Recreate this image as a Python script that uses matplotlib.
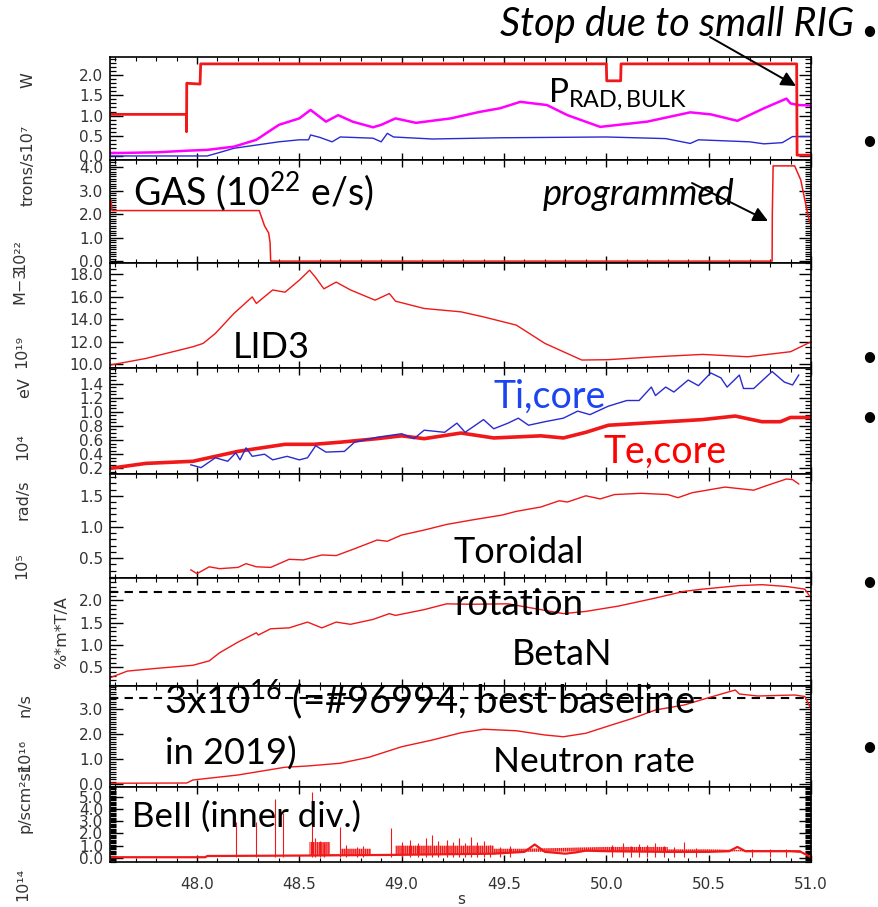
import numpy as np
import matplotlib
matplotlib.use("Agg")
import matplotlib.pyplot as plt
from matplotlib.ticker import FixedLocator, MultipleLocator, FormatStrFormatter

plt.rcParams["mathtext.fontset"] = "custom"
plt.rcParams["mathtext.rm"] = "Lato"
plt.rcParams["mathtext.it"] = "Lato:italic"
plt.rcParams["hatch.linewidth"] = 1.0

# ---------------------------------------------------------
# signals (time in s)
# ---------------------------------------------------------
# heating power (red) and radiated powers
t_pnbi = [47.575, 47.948, 47.949, 47.950, 48.015, 48.018, 50.0, 50.002, 50.07, 50.072, 50.93, 50.932, 51.0]
p_nbi = [1.03, 1.03, 0.6, 1.80, 1.78, 2.28, 2.28, 1.86, 1.86, 2.28, 2.28, 0.02, 0.02]

t_prad = [47.575, 47.8, 47.95, 48.05, 48.18, 48.29, 48.4, 48.5, 48.555, 48.63, 48.69, 48.76, 48.86, 48.9,
          48.97, 49.07, 49.24, 49.38, 49.48, 49.58, 49.71, 49.81, 49.97, 50.2, 50.41, 50.51, 50.64, 50.77,
          50.88, 50.9, 50.94, 51.0]
p_rad_bulk = [0.07, 0.09, 0.13, 0.15, 0.23, 0.4, 0.77, 0.93, 1.14, 0.85, 1.01, 0.85, 0.71, 0.77,
              0.93, 0.82, 0.93, 1.09, 1.18, 1.34, 1.26, 1.01, 0.72, 0.85, 1.08, 1.03, 0.87, 1.18,
              1.42, 1.3, 1.26, 1.25]

t_prad2 = [47.575, 48.05, 48.12, 48.18, 48.29, 48.4, 48.5, 48.545, 48.555, 48.6, 48.66, 48.7, 48.86, 48.9,
           48.93, 48.96, 49.15, 49.48, 50.0, 50.29, 50.41, 50.45, 50.7, 50.77, 50.86, 50.91, 51.0]
p_rad2 = [0.0, 0.0, 0.1, 0.19, 0.27, 0.35, 0.4, 0.4, 0.52, 0.46, 0.35, 0.47, 0.44, 0.35,
          0.56, 0.47, 0.42, 0.45, 0.47, 0.43, 0.31, 0.4, 0.35, 0.3, 0.33, 0.48, 0.48]

# gas injection
t_gas = [47.575, 47.58, 47.585, 48.304, 48.33, 48.35, 48.357, 48.36, 50.81, 50.811, 50.815, 50.92, 50.95, 50.985, 51.0]
gas = [2.15, 2.6, 2.15, 2.15, 1.5, 1.2, 0.8, 0.0, 0.0, 2.0, 4.05, 4.05, 3.45, 1.96, 1.5]

# line integrated density LID3
t_lid = [47.575, 47.75, 47.98, 48.03, 48.09, 48.18, 48.27, 48.29, 48.37, 48.43, 48.5, 48.55, 48.58, 48.62,
         48.68, 48.75, 48.87, 48.94, 48.97, 49.11, 49.29, 49.4, 49.56, 49.7, 49.79, 49.88, 50.01, 50.24,
         50.47, 50.69, 50.9, 51.0]
lid3 = [9.91, 10.5, 11.54, 11.84, 12.73, 14.5, 15.98, 15.4, 16.6, 16.4, 17.47, 18.36, 17.7, 16.7,
        17.3, 16.6, 15.69, 16.28, 15.6, 14.95, 14.65, 14.2, 13.47, 11.84, 11.1, 10.36, 10.39, 10.65,
        10.86, 10.65, 11.1, 11.98]

# core temperatures
t_te = [47.575, 47.75, 47.98, 48.2, 48.43, 48.57, 48.7, 48.88, 49.0, 49.11, 49.29, 49.45, 49.68, 49.79,
        49.9, 50.01, 50.24, 50.47, 50.63, 50.76, 50.85, 50.9, 51.0]
te_core = [0.2, 0.27, 0.3, 0.44, 0.54, 0.54, 0.57, 0.62, 0.66, 0.62, 0.7, 0.63, 0.66, 0.63,
           0.71, 0.81, 0.85, 0.89, 0.94, 0.86, 0.86, 0.92, 0.92]

t_ti = [47.97, 48.02, 48.09, 48.15, 48.19, 48.21, 48.24, 48.27, 48.33, 48.37, 48.44, 48.5, 48.54, 48.58,
        48.63, 48.72, 48.77, 48.88, 49.0, 49.06, 49.11, 49.21, 49.27, 49.31, 49.4, 49.45, 49.52, 49.57,
        49.62, 49.7, 49.79, 49.86, 49.92, 50.01, 50.1, 50.16, 50.22, 50.24, 50.29, 50.33, 50.4, 50.45,
        50.51, 50.56, 50.59, 50.65, 50.67, 50.72, 50.81, 50.87, 50.91, 50.94]
ti_core = [0.25, 0.21, 0.35, 0.3, 0.42, 0.32, 0.49, 0.37, 0.4, 0.32, 0.37, 0.32, 0.35, 0.52,
           0.43, 0.44, 0.57, 0.64, 0.69, 0.62, 0.74, 0.71, 0.84, 0.71, 0.89, 0.76, 0.84, 0.91,
           0.81, 0.86, 0.91, 1.01, 0.96, 1.08, 1.16, 1.16, 1.35, 1.23, 1.35, 1.28, 1.45, 1.37,
           1.55, 1.48, 1.35, 1.52, 1.33, 1.33, 1.57, 1.42, 1.38, 1.52]

# toroidal rotation
t_rot = [47.97, 48.0, 48.06, 48.11, 48.2, 48.24, 48.29, 48.36, 48.45, 48.52, 48.61, 48.68, 48.77, 48.88,
         48.93, 49.0, 49.11, 49.22, 49.34, 49.49, 49.56, 49.68, 49.77, 49.81, 49.9, 49.97, 50.04, 50.17,
         50.3, 50.35, 50.42, 50.58, 50.72, 50.78, 50.88, 50.91, 50.94]
rot = [0.31, 0.25, 0.36, 0.33, 0.35, 0.41, 0.36, 0.35, 0.48, 0.47, 0.55, 0.54, 0.65, 0.79,
       0.77, 0.87, 0.95, 1.04, 1.11, 1.19, 1.25, 1.32, 1.42, 1.4, 1.5, 1.45, 1.52, 1.54,
       1.52, 1.47, 1.55, 1.64, 1.59, 1.66, 1.77, 1.76, 1.69]

# normalised beta
t_beta = [47.575, 47.66, 47.8, 47.98, 48.06, 48.11, 48.2, 48.29, 48.3, 48.36, 48.45, 48.54, 48.61, 48.68,
          48.75, 48.86, 48.94, 48.97, 49.11, 49.22, 49.34, 49.52, 49.68, 49.79, 49.9, 50.06, 50.24, 50.38,
          50.47, 50.65, 50.76, 50.88, 50.97, 51.0]
beta_n = [0.26, 0.41, 0.47, 0.54, 0.64, 0.82, 1.06, 1.27, 1.22, 1.36, 1.38, 1.51, 1.38, 1.51,
          1.46, 1.57, 1.7, 1.66, 1.79, 1.92, 1.91, 1.92, 1.79, 1.7, 1.75, 1.87, 2.05, 2.2,
          2.25, 2.33, 2.35, 2.31, 2.25, 2.05]
beta_ref = 2.18

# neutron rate
t_neut = [47.575, 47.95, 47.98, 48.2, 48.43, 48.54, 48.7, 48.84, 49.0, 49.15, 49.29, 49.4, 49.56, 49.7,
          49.79, 49.9, 50.01, 50.13, 50.24, 50.38, 50.49, 50.63, 50.65, 50.74, 50.92, 50.97, 51.0]
neutrons = [0.03, 0.04, 0.16, 0.36, 0.67, 0.72, 0.83, 1.07, 1.49, 1.76, 2.05, 2.19, 2.13, 1.96,
            1.89, 2.03, 2.32, 2.63, 2.96, 3.16, 3.43, 3.76, 3.6, 3.52, 3.56, 3.5, 3.0]
neut_ref = 3.45

# BeII inner divertor: baseline, noisy band and ELM spikes
t_be = [47.575, 48.04, 48.05, 48.55, 48.95, 49.45, 49.6, 49.65, 49.7, 49.8, 49.85, 49.9, 50.0, 50.3,
        50.5, 50.6, 50.64, 50.68, 50.9, 50.95, 51.0]
be_base = [0.06, 0.06, 0.16, 0.2, 0.25, 0.35, 0.5, 1.1, 0.5, 0.35, 0.45, 0.6, 0.55, 0.5,
           0.5, 0.55, 0.9, 0.55, 0.55, 0.5, 0.06]
t_band = [48.55, 48.65, 48.65, 48.7, 48.7, 48.85, 48.85, 48.97, 48.97, 49.45, 49.45, 49.6,
          50.0, 50.3, 50.3, 50.5, 50.65, 50.95]
band_lo = [0.2, 0.2, 0.2, 0.2, 0.2, 0.22, 0.22, 0.25, 0.25, 0.35, 0.35, 0.5,
           0.55, 0.5, 0.5, 0.5, 0.55, 0.5]
band_hi = [1.3, 1.3, 0.3, 0.3, 0.75, 0.75, 0.3, 0.3, 1.0, 1.0, 0.75, 0.75,
           0.9, 0.9, 0.7, 0.7, 0.65, 0.65]
t_spike = [48.19, 48.29, 48.38, 48.42, 48.56, 48.70, 48.95, 48.575, 48.6, 48.62, 48.73, 48.78, 48.81,
           49.0, 49.04, 49.08, 49.12, 49.15, 49.18, 49.22, 49.25, 49.28, 49.31, 49.34, 49.37, 49.4,
           49.43, 49.48, 49.53, 50.03, 50.08, 50.12, 50.16, 50.2, 50.24, 50.28, 50.33, 50.38, 50.44,
           50.71, 50.8, 50.88]
spike_h = [2.98, 2.9, 4.84, 3.66, 5.38, 2.57, 2.43, 1.6, 1.4, 1.2, 1.1, 0.9, 1.0,
           1.3, 1.5, 1.2, 1.6, 1.9, 1.4, 1.5, 1.3, 1.6, 1.2, 1.7, 1.3, 1.4,
           1.1, 0.9, 0.95, 1.1, 1.2, 1.0, 1.15, 1.1, 1.25, 0.95, 0.9, 1.3, 0.85,
           0.75, 0.7, 0.75]

x_ticks = [48.0, 48.5, 49.0, 49.5, 50.0, 50.5, 51.0]

# ---------------------------------------------------------
# figure layout (pixels)
# ---------------------------------------------------------
W, H = 879, 907
fig = plt.figure(figsize=(W / 100, H / 100), dpi=100)

edges = [57, 160, 263, 368, 474, 578, 686, 787, 862]
left, right = 110, 811
RED = "#f01818"
TXT = ["Lato", "DejaVu Sans"]


def fx(x):
    return x / W


def fy(y):
    return 1 - y / H


axes = []
for i in range(8):
    top, bot = edges[i], edges[i + 1]
    ax = fig.add_axes([left / W, 1 - bot / H, (right - left) / W, (bot - top) / H])
    axes.append(ax)


def idl_axis(ax, ylim, yticks, yminor):
    ax.set_xlim(47.575, 51.0)
    ax.set_ylim(*ylim)
    ax.xaxis.set_major_locator(FixedLocator(x_ticks))
    ax.xaxis.set_minor_locator(MultipleLocator(0.1))
    ax.yaxis.set_major_locator(FixedLocator(yticks))
    ax.yaxis.set_minor_locator(MultipleLocator(yminor))
    ax.yaxis.set_major_formatter(FormatStrFormatter("%.1f"))
    ax.tick_params(which="both", direction="in", top=True, right=True, labelbottom=False,
                   labelsize=11, labelcolor="#333333", colors="black")
    ax.tick_params(axis="y", which="major", length=9, width=1.0, pad=5)
    ax.tick_params(axis="y", which="minor", length=4.5, width=0.9)
    ax.tick_params(axis="x", which="major", length=5, width=1.0)
    ax.tick_params(axis="x", which="minor", length=3, width=0.8)
    for s in ax.spines.values():
        s.set_linewidth(1.2)


# 1. powers
ax = axes[0]
ax.plot(t_prad2, p_rad2, color="#2a2ad0", lw=1.0)
ax.plot(t_prad, p_rad_bulk, color="#ff00ff", lw=1.8)
ax.plot(t_pnbi, p_nbi, color=RED, lw=2.0)
idl_axis(ax, (-0.1, 2.45), [0.0, 0.5, 1.0, 1.5, 2.0], 0.1)

# 2. gas
ax = axes[1]
ax.plot(t_gas, gas, color=RED, lw=1.1)
idl_axis(ax, (-0.08, 4.3), [0.0, 1.0, 2.0, 3.0, 4.0], 0.1)

# 3. density
ax = axes[2]
ax.plot(t_lid, lid3, color=RED, lw=1.0)
idl_axis(ax, (9.65, 19.0), [10.0, 12.0, 14.0, 16.0, 18.0], 0.5)

# 4. temperatures
ax = axes[3]
ax.plot(t_te, te_core, color=RED, lw=2.6)
ax.plot(t_ti, ti_core, color="#2a2ad0", lw=1.0)
idl_axis(ax, (0.12, 1.62), [0.2, 0.4, 0.6, 0.8, 1.0, 1.2, 1.4], 0.05)

# 5. rotation
ax = axes[4]
ax.plot(t_rot, rot, color=RED, lw=1.0)
idl_axis(ax, (0.18, 1.85), [0.5, 1.0, 1.5], 0.1)

# 6. betaN
ax = axes[5]
ax.axhline(beta_ref, color="black", lw=1.5, ls=(0, (4, 3)))
ax.plot(t_beta, beta_n, color=RED, lw=1.0)
idl_axis(ax, (0.075, 2.5), [0.5, 1.0, 1.5, 2.0], 0.1)

# 7. neutrons
ax = axes[6]
ax.axhline(neut_ref, color="black", lw=1.5, ls=(0, (4, 3)))
ax.plot(t_neut, neutrons, color=RED, lw=1.0)
idl_axis(ax, (-0.12, 3.92), [0.0, 1.0, 2.0, 3.0], 0.1)

# 8. BeII - noisy stretches drawn as a densely hatched band
ax = axes[7]
ax.fill_between(t_band, band_lo, band_hi, facecolor=(1.0, 0.35, 0.35, 0.45), edgecolor=RED,
                hatch="||||||||", lw=0)
ax.vlines(t_spike, 0.1, spike_h, color=RED, lw=0.8)
ax.plot(t_be, be_base, color=RED, lw=1.6)
idl_axis(ax, (-0.33, 5.8), [0.0, 1.0, 2.0, 3.0, 4.0, 5.0], 0.1)
ax.tick_params(labelbottom=True)
ax.tick_params(axis="x", which="major", pad=11)

# unit labels down the left side
unit_labels = [("W", 28, 80), ("trons/s10⁷", 28, 165), ("10²²", 20, 256), ("M−3", 20, 285),
               ("10¹⁹", 22, 351), ("eV", 25, 388), ("10⁴", 23, 447), ("rad/s", 23, 500),
               ("10⁵", 22, 566), ("%*m*T/A", 62, 633), ("n/s", 25, 705), ("10¹⁶", 25, 755),
               ("p/scm²sr", 25, 798), ("10¹⁴", 23, 884)]
for txt, x, y in unit_labels:
    fig.text(fx(x), fy(y), txt, rotation=90, ha="center", va="center", fontsize=11.5, color="#333333")
fig.text(fx(461), fy(899), "s", ha="center", va="center", fontsize=11, color="#333333")

# annotations
notes = [
    ("Stop due to small RIG", 500, 36, 28.5, "black", "italic"),
    ("P$_{\\mathrm{RAD,BULK}}$", 548, 102, 24, "black", "normal"),
    ("GAS (10$^{22}$ e/s)", 133, 205, 27, "black", "normal"),
    ("programmed", 543, 205, 26, "black", "italic"),
    ("LID3", 233, 358, 26, "black", "normal"),
    ("Ti,core", 493, 408, 27, "#1c44f0", "normal"),
    ("Te,core", 604, 463, 27, "#ff0000", "normal"),
    ("Toroidal", 454, 563, 26, "black", "normal"),
    ("rotation", 454, 615, 26.5, "black", "normal"),
    ("BetaN", 512, 665, 26, "black", "normal"),
    ("3x10$^{16}$ (=#96994, best baseline", 164, 713, 27.5, "black", "normal"),
    ("in 2019)", 165, 765, 26, "black", "normal"),
    ("Neutron rate", 493, 772, 25.5, "black", "normal"),
    ("BeII (inner div.)", 132, 827, 25, "black", "normal"),
]
for txt, x, y, size, col, style in notes:
    fig.text(fx(x), fy(y), txt, ha="left", va="baseline", fontsize=size, color=col,
             style=style, family=TXT)

arrow = dict(arrowstyle="-|>", color="black", lw=1.4, mutation_scale=22, shrinkA=0, shrinkB=0)
fig.add_artist(plt.Annotation("", xy=(fx(796), fy(86)), xytext=(fx(710), fy(37)),
                              xycoords="figure fraction", textcoords="figure fraction", arrowprops=arrow))
fig.add_artist(plt.Annotation("", xy=(fx(768), fy(221)), xytext=(fx(692), fy(183)),
                              xycoords="figure fraction", textcoords="figure fraction", arrowprops=arrow))

# slide bullets on the right
for y in [32, 142, 358, 418, 583, 748]:
    fig.text(fx(869), fy(y), "•", ha="center", va="center", fontsize=20, color="black", family=TXT)

plt.savefig("out.png", dpi=100)
